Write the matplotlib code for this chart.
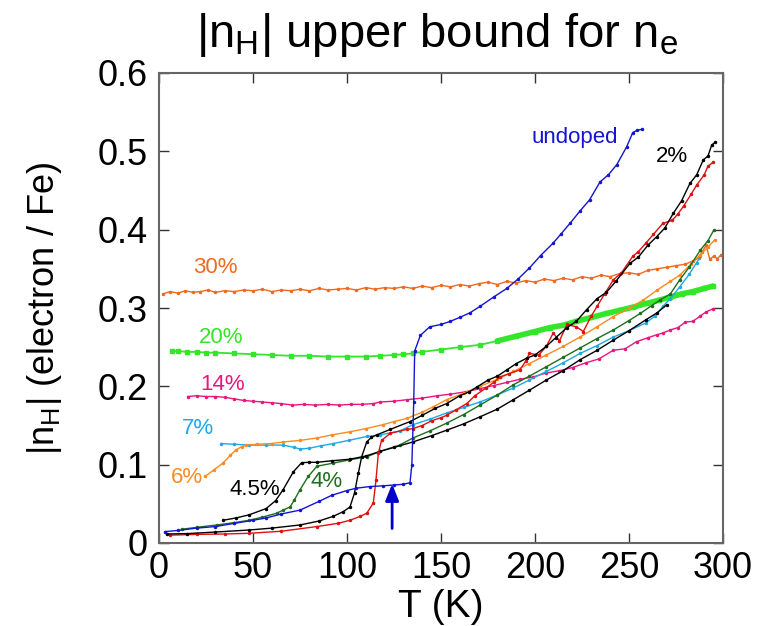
import matplotlib
matplotlib.use("Agg")
import matplotlib.pyplot as plt
from matplotlib import font_manager

names = {f.name for f in font_manager.fontManager.ttflist}
NARROW = 'Liberation Sans Narrow' if 'Liberation Sans Narrow' in names else 'Liberation Sans'
REG = 'Liberation Sans'
plt.rcParams['font.family'] = [NARROW, 'DejaVu Sans']
plt.rcParams['mathtext.fontset'] = 'custom'
plt.rcParams['mathtext.rm'] = NARROW
plt.rcParams['mathtext.it'] = NARROW
plt.rcParams['mathtext.bf'] = NARROW

# ---------------- data ----------------
T_30 = [2, 6, 10, 14, 18, 22, 26, 30, 35, 40, 45, 50, 55, 60, 65, 70, 75, 80, 85, 90, 95, 100,
        105, 110, 115, 120, 125, 130, 135, 140, 145, 150, 155, 160, 165, 170, 175, 180, 185, 190,
        195, 200, 205, 210, 215, 220, 225, 230, 235, 240, 245, 250, 255, 260, 265, 270, 275, 280,
        284, 287, 289, 291, 293, 295, 297, 299]
n_30 = [0.318, 0.321, 0.319, 0.322, 0.320, 0.321, 0.323, 0.320, 0.322, 0.321, 0.323, 0.322, 0.324, 0.321,
        0.323, 0.322, 0.324, 0.322, 0.325, 0.323, 0.324, 0.325, 0.323, 0.326, 0.324, 0.326, 0.325,
        0.327, 0.325, 0.328, 0.326, 0.329, 0.327, 0.330, 0.328, 0.331, 0.333, 0.330, 0.334, 0.332,
        0.335, 0.333, 0.337, 0.335, 0.338, 0.336, 0.340, 0.338, 0.342, 0.340, 0.344, 0.345, 0.343,
        0.348, 0.350, 0.352, 0.354, 0.356, 0.360, 0.364, 0.372, 0.380, 0.362, 0.366, 0.363, 0.368]

T_20 = [7, 10, 15, 20, 25, 30, 40, 50, 60, 70, 80, 90, 100, 110, 117.6, 125, 130, 135, 140, 150, 160,
        170.7, 180, 190, 200, 208, 215, 222, 230, 238, 245, 252, 259.6, 266, 272, 278, 284, 290, 294.7]
n_20 = [0.245, 0.245, 0.244, 0.244, 0.243, 0.243, 0.242, 0.241, 0.240, 0.239, 0.239, 0.238, 0.238, 0.238,
        0.239, 0.240, 0.241, 0.242, 0.244, 0.247, 0.250, 0.253, 0.258, 0.264, 0.270, 0.275, 0.278,
        0.283, 0.288, 0.293, 0.297, 0.301, 0.306, 0.310, 0.314, 0.318, 0.321, 0.325, 0.328]

T_14 = [15.3, 20, 25, 30, 35, 40, 45, 50, 55, 60, 65, 71, 77, 83, 90, 96, 102, 108, 114, 117.6, 125, 132,
        140, 148, 155, 163, 170.7, 178, 185, 192, 199, 206, 213, 220, 227, 234, 241.6, 248, 254, 260,
        265, 268, 272, 276, 280, 284, 288, 291, 294.7]
n_14 = [0.187, 0.188, 0.187, 0.187, 0.186, 0.184, 0.182, 0.181, 0.180, 0.179, 0.178, 0.176, 0.177, 0.176,
        0.177, 0.176, 0.177, 0.177, 0.178, 0.180, 0.181, 0.183, 0.185, 0.188, 0.190, 0.193, 0.197,
        0.201, 0.205, 0.209, 0.212, 0.217, 0.220, 0.224, 0.230, 0.235, 0.246, 0.248, 0.257, 0.262,
        0.266, 0.268, 0.272, 0.275, 0.282, 0.283, 0.290, 0.295, 0.299]

T_und = [3, 10, 20, 30, 40, 50, 57, 65, 75, 85, 92, 100, 105, 112, 119, 125, 130, 133.5, 134.5, 135.5,
         136, 139, 144, 150, 155, 160, 165.5, 170.7, 178, 185, 191, 197, 203, 209.7, 214, 218.6, 224,
         229, 234.6, 239, 243.5, 248.8, 252, 254.5, 256.7]
n_und = [0.0145, 0.016, 0.019, 0.021, 0.025, 0.029, 0.032, 0.037, 0.042, 0.053, 0.061, 0.067, 0.070,
         0.072, 0.073, 0.074, 0.075, 0.077, 0.10, 0.18, 0.245, 0.265, 0.276, 0.279, 0.283, 0.288, 0.294,
         0.302, 0.314, 0.325, 0.337, 0.351, 0.367, 0.383, 0.395, 0.408, 0.424, 0.438, 0.461, 0.470,
         0.483, 0.506, 0.524, 0.527, 0.528]

T_2 = [4, 15, 30, 48, 60, 75, 85, 92.6, 98, 101.6, 104, 106, 107.8, 110.5, 113, 115.8, 123, 133.5, 140,
       147, 153, 160, 165, 169, 175, 180, 185, 190, 195.6, 200, 206, 211, 217, 222, 227.5, 233, 238,
       243, 250.5, 255, 260, 264.7, 269, 273.6, 278, 282.4, 286, 289.5, 292, 294, 296]
n_2 = [0.0115, 0.012, 0.014, 0.0166, 0.019, 0.023, 0.028, 0.034, 0.040, 0.046, 0.064, 0.089, 0.110,
       0.129, 0.135, 0.138, 0.145, 0.155, 0.163, 0.172, 0.178, 0.188, 0.193, 0.199, 0.208, 0.213,
       0.221, 0.229, 0.236, 0.240, 0.251, 0.262, 0.275, 0.283, 0.298, 0.312, 0.320, 0.334, 0.357,
       0.365, 0.380, 0.391, 0.402, 0.421, 0.437, 0.459, 0.470, 0.489, 0.494, 0.508, 0.512]

T_red = [6, 20, 35, 48, 65, 84, 95, 101.6, 107, 110.5, 114, 115.4, 116.7, 118.4, 123, 131.7, 135, 140,
         145, 150, 153, 158, 163.7, 168, 174, 178, 181.4, 186, 192, 195, 197, 202, 206, 209.7, 213, 217,
         222, 225.7, 230, 233, 237, 241.7, 246, 252, 255, 259, 263, 268, 273, 276, 279, 283, 286, 290,
         292, 294.7]
n_red = [0.010, 0.011, 0.0115, 0.0124, 0.015, 0.021, 0.025, 0.029, 0.034, 0.038, 0.051, 0.080, 0.115,
         0.131, 0.140, 0.145, 0.146, 0.150, 0.156, 0.160, 0.163, 0.170, 0.178, 0.188, 0.198, 0.205,
         0.212, 0.216, 0.221, 0.232, 0.242, 0.240, 0.251, 0.268, 0.258, 0.279, 0.276, 0.270, 0.290,
         0.302, 0.318, 0.336, 0.345, 0.366, 0.372, 0.383, 0.394, 0.408, 0.412, 0.420, 0.430, 0.445,
         0.457, 0.470, 0.481, 0.486]

T_45 = [34, 41, 48, 57, 62, 66, 71.5, 75.9, 80, 84, 92, 101.6, 110, 117.6, 125, 135, 145, 153, 162,
        170.7, 180, 188.5, 197, 206, 215, 224, 233, 241.7, 250, 259, 265, 270]
n_45 = [0.029, 0.032, 0.036, 0.044, 0.054, 0.068, 0.091, 0.1026, 0.103, 0.103, 0.105, 0.107, 0.111,
        0.117, 0.122, 0.129, 0.137, 0.144, 0.152, 0.161, 0.171, 0.183, 0.195, 0.208, 0.220, 0.234,
        0.246, 0.259, 0.271, 0.285, 0.294, 0.304]

T_4 = [12, 20, 30.7, 40, 48, 55, 62.6, 66, 69.7, 72, 75, 79.4, 84, 92.7, 101, 110.5, 117.6, 128, 135,
       144, 153, 162, 170.7, 180, 188.5, 197, 206, 215, 224, 233, 241.7, 250, 256, 262, 266.5, 272,
       277, 282, 288, 292, 295]
n_4 = [0.0175, 0.020, 0.023, 0.026, 0.029, 0.033, 0.038, 0.042, 0.046, 0.055, 0.068, 0.085, 0.098,
       0.102, 0.106, 0.110, 0.117, 0.125, 0.134, 0.143, 0.153, 0.164, 0.176, 0.189, 0.202, 0.213,
       0.225, 0.237, 0.249, 0.261, 0.272, 0.284, 0.293, 0.303, 0.310, 0.318, 0.336, 0.352, 0.374,
       0.386, 0.399]

T_6 = [24.5, 29, 34, 38, 41, 44, 46.5, 52, 60, 66, 75, 84, 92, 101.6, 110, 119, 125, 131.7, 140, 146,
       153, 162, 170.7, 180, 188.5, 197, 206, 215, 224, 233, 241.7, 250, 257.6, 265, 272, 277, 283,
       288, 292, 295.7]
n_6 = [0.085, 0.093, 0.102, 0.112, 0.119, 0.123, 0.125, 0.126, 0.127, 0.129, 0.131, 0.134, 0.138,
       0.142, 0.146, 0.151, 0.155, 0.159, 0.167, 0.174, 0.183, 0.191, 0.200, 0.209, 0.219, 0.229,
       0.240, 0.251, 0.263, 0.276, 0.289, 0.300, 0.310, 0.323, 0.334, 0.342, 0.356, 0.368, 0.378,
       0.387]

T_7 = [33, 40, 48, 57, 66, 72, 75, 80, 86, 92.7, 101, 110.5, 117.6, 128, 135, 144, 153, 162, 170.7,
       180, 188.5, 197, 206, 215, 224, 233, 241.7, 250, 259, 264, 268, 272, 277, 282, 286, 288]
n_7 = [0.127, 0.126, 0.125, 0.125, 0.125, 0.122, 0.120, 0.121, 0.124, 0.127, 0.131, 0.136, 0.138,
       0.143, 0.151, 0.158, 0.166, 0.173, 0.180, 0.189, 0.198, 0.208, 0.219, 0.230, 0.242, 0.252,
       0.263, 0.271, 0.281, 0.290, 0.302, 0.312, 0.327, 0.343, 0.358, 0.366]

arrow_T = 124
arrow_n = [0.015, 0.079]

labels = ["undoped", "2%", "30%", "20%", "14%", "7%", "6%", "4.5%", "4%"]
label_T = [221, 273, 30, 33, 34, 20.5, 15, 51, 89]
label_n = [0.518, 0.494, 0.352, 0.262, 0.202, 0.146, 0.084, 0.068, 0.078]

C_UND = '#1414D2'
C_30 = '#F06A1E'
C_20 = '#33E62A'
C_14 = '#E8177E'
C_7 = '#1DA9E6'
C_6 = '#FF8A1E'
C_4 = '#1E6E1E'
C_BK = '#000000'
C_RED = '#E01010'
label_colors = [C_UND, C_BK, C_30, C_20, C_14, C_7, C_6, C_BK, C_4]

# ---------------- figure ----------------
fig = plt.figure(figsize=(7.62, 6.26), dpi=100)
ax = fig.add_axes([159/762, 1-543/626, 564/762, 470/626])

kw = dict(marker='.', markersize=3.0, linewidth=1.0)
ax.plot(T_30, n_30, color=C_30, **kw)
ax.plot(T_14, n_14, color=C_14, **kw)
ax.plot(T_20, n_20, color=C_20, marker='s', markersize=3.2, linewidth=1.3)
ax.plot([t for t in T_20 if t >= 180], [v for t, v in zip(T_20, n_20) if t >= 180],
        color=C_20, linewidth=4.0, solid_capstyle='round')
ax.plot(T_7, n_7, color=C_7, **kw)
ax.plot(T_6, n_6, color=C_6, **kw)
ax.plot(T_4, n_4, color=C_4, **kw)
ax.plot(T_45, n_45, color=C_BK, **kw)
ax.plot(T_red, n_red, color=C_RED, **kw)
ax.plot(T_2, n_2, color=C_BK, **kw)
ax.plot(T_und, n_und, color=C_UND, **kw)

ax.annotate('', xy=(arrow_T, arrow_n[1]), xytext=(arrow_T, arrow_n[0]),
            arrowprops=dict(arrowstyle='-|>,head_length=1.0,head_width=0.4', color='#0000CC', lw=2.0))

for s, t, v, c in zip(labels, label_T, label_n, label_colors):
    ax.text(t, v, s, color=c, fontsize=16, family=REG, ha='center', va='center')

ax.set_xlim(0, 300)
ax.set_ylim(0, 0.6)
ax.set_xticks([0, 50, 100, 150, 200, 250, 300])
ax.set_yticks([0, 0.1, 0.2, 0.3, 0.4, 0.5, 0.6])
ax.set_yticklabels(['0', '0.1', '0.2', '0.3', '0.4', '0.5', '0.6'])
ax.tick_params(direction='in', length=7, width=1.0, top=True, right=True,
               labelsize=26, color='#333333')
ax.tick_params(axis='y', pad=8)
ax.tick_params(axis='x', pad=6)
for sp in ax.spines.values():
    sp.set_color('#666666')
    sp.set_linewidth(1.5)

ax.set_xlabel('T (K)', fontsize=28, labelpad=2)
ax.set_ylabel(r'|n$_\mathregular{H}$| (electron / Fe)', fontsize=26, labelpad=24)
fig.text(0.573, 0.944, r'|n$_\mathregular{H}$| upper bound for n$_\mathregular{e}$',
         fontsize=34, ha='center', va='center')

fig.savefig('out.png', dpi=100)
